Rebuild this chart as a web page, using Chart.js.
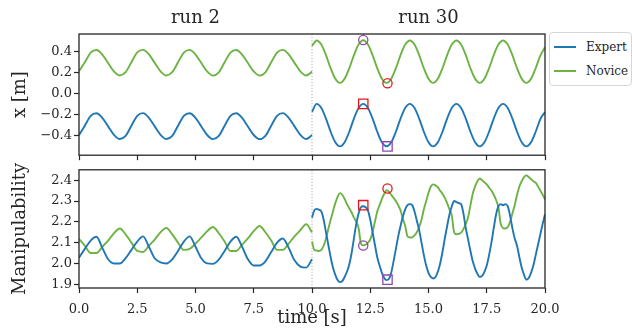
<!DOCTYPE html>
<html>
<head>
<meta charset="utf-8">
<script src="https://cdn.jsdelivr.net/npm/chart.js@4/dist/chart.umd.min.js"></script>
<style>
  html, body { margin: 0; padding: 0; background: #fff; width: 632px; height: 329px; overflow: hidden; position: relative; }
  canvas { position: absolute; left: 0; }
  #posChart { top: 0; }
  #manipChart { top: 160px; }
  #legend { position: absolute; left: 549px; top: 32px; width: 81px; height: 52px; border: 1px solid #d6d6d6; border-radius: 4px; background: #fff; font: 12px 'DejaVu Serif', serif; color: #262626; }
  .entry { position: absolute; left: 0; width: 100%; height: 16px; }
  .swatch { position: absolute; left: 4px; top: 7px; width: 22px; height: 2px; }
  .label { position: absolute; left: 36px; top: 0; line-height: 16px; white-space: nowrap; }
</style>
</head>
<body>
<canvas id="posChart" width="632" height="165"></canvas>
<canvas id="manipChart" width="632" height="169"></canvas>
<div id="legend"></div>
<script>
// ---- series ----
const seriesNames = ['Expert', 'Novice'];
const runTitles = ['run 2', 'run 30'];
const runCentres = [5, 15];
const runSplit = 10;

// run 2, sampled every 0.25 s
const timeRun2 = [0, 0.25, 0.5, 0.75, 1, 1.25, 1.5, 1.75, 2, 2.25, 2.5, 2.75, 3, 3.25, 3.5, 3.75,
  4, 4.25, 4.5, 4.75, 5, 5.25, 5.5, 5.75, 6, 6.25, 6.5, 6.75, 7, 7.25, 7.5, 7.75,
  8, 8.25, 8.5, 8.75, 9, 9.25, 9.5, 9.75, 10];
const posExpertRun2 = [-0.400, -0.308, -0.214, -0.189, -0.233, -0.315, -0.396, -0.436,
  -0.405, -0.308, -0.214, -0.188, -0.233, -0.315, -0.396, -0.436,
  -0.405, -0.309, -0.215, -0.189, -0.233, -0.316, -0.397, -0.437,
  -0.406, -0.309, -0.214, -0.189, -0.234, -0.316, -0.397, -0.437,
  -0.405, -0.308, -0.214, -0.188, -0.233, -0.315, -0.396, -0.436, -0.398];
const posNoviceRun2 = [0.212, 0.297, 0.390, 0.414, 0.371, 0.290, 0.210, 0.171,
  0.202, 0.298, 0.391, 0.415, 0.372, 0.291, 0.211, 0.171,
  0.202, 0.297, 0.390, 0.415, 0.371, 0.290, 0.210, 0.170,
  0.201, 0.297, 0.390, 0.414, 0.371, 0.290, 0.210, 0.170,
  0.201, 0.297, 0.390, 0.415, 0.372, 0.291, 0.211, 0.171, 0.208];
const manipExpertRun2 = [2.028, 2.070, 2.110, 2.128, 2.075, 2.020, 2.000, 2.000,
  2.025, 2.065, 2.105, 2.130, 2.080, 2.025, 2.005, 2.000,
  2.020, 2.060, 2.105, 2.130, 2.080, 2.025, 2.000, 1.998,
  2.018, 2.060, 2.105, 2.128, 2.080, 2.020, 1.990, 1.990,
  2.010, 2.055, 2.100, 2.120, 2.075, 2.015, 1.985, 1.980, 2.020];
const manipNoviceRun2 = [2.118, 2.085, 2.050, 2.050, 2.080, 2.110, 2.145, 2.168,
  2.140, 2.100, 2.060, 2.055, 2.085, 2.115, 2.150, 2.170,
  2.140, 2.100, 2.065, 2.070, 2.095, 2.125, 2.155, 2.175,
  2.145, 2.105, 2.060, 2.060, 2.090, 2.120, 2.155, 2.180,
  2.150, 2.110, 2.065, 2.065, 2.095, 2.130, 2.160, 2.188, 2.150];

// run 30 position, sampled every 0.2 s
const timeRun30Pos = [10, 10.2, 10.4, 10.6, 10.8, 11, 11.2, 11.4, 11.6, 11.8,
  12, 12.2, 12.4, 12.6, 12.8, 13, 13.2, 13.4, 13.6, 13.8,
  14, 14.2, 14.4, 14.6, 14.8, 15, 15.2, 15.4, 15.6, 15.8,
  16, 16.2, 16.4, 16.6, 16.8, 17, 17.2, 17.4, 17.6, 17.8,
  18, 18.2, 18.4, 18.6, 18.8, 19, 19.2, 19.4, 19.6, 19.8, 20];
const posExpertRun30 = [-0.175, -0.100, -0.139, -0.240, -0.366, -0.467, -0.506, -0.467, -0.366, -0.240,
  -0.139, -0.100, -0.139, -0.240, -0.366, -0.467, -0.505, -0.467, -0.366, -0.240,
  -0.139, -0.100, -0.139, -0.240, -0.366, -0.467, -0.506, -0.467, -0.366, -0.240,
  -0.139, -0.100, -0.139, -0.240, -0.366, -0.467, -0.506, -0.467, -0.366, -0.240,
  -0.139, -0.100, -0.139, -0.240, -0.366, -0.467, -0.506, -0.467, -0.366, -0.245, -0.178];
const posNoviceRun30 = [0.453, 0.505, 0.466, 0.365, 0.240, 0.139, 0.100, 0.139, 0.240, 0.365,
  0.466, 0.507, 0.466, 0.365, 0.240, 0.140, 0.100, 0.139, 0.240, 0.365,
  0.466, 0.505, 0.466, 0.365, 0.240, 0.139, 0.100, 0.139, 0.240, 0.365,
  0.466, 0.505, 0.466, 0.365, 0.240, 0.139, 0.100, 0.139, 0.240, 0.365,
  0.466, 0.505, 0.466, 0.365, 0.240, 0.139, 0.100, 0.139, 0.240, 0.360, 0.440];

// run 30 manipulability, sampled every 0.1 s
const timeRun30Manip = [10, 10.1, 10.2, 10.3, 10.4, 10.5, 10.6, 10.7, 10.8, 10.9,
  11, 11.1, 11.2, 11.3, 11.4, 11.5, 11.6, 11.7, 11.8, 11.9,
  12, 12.1, 12.2, 12.3, 12.4, 12.5, 12.6, 12.7, 12.8, 12.9,
  13, 13.1, 13.2, 13.3, 13.4, 13.5, 13.6, 13.7, 13.8, 13.9,
  14, 14.1, 14.2, 14.3, 14.4, 14.5, 14.6, 14.7, 14.8, 14.9,
  15, 15.1, 15.2, 15.3, 15.4, 15.5, 15.6, 15.7, 15.8, 15.9,
  16, 16.1, 16.2, 16.3, 16.4, 16.5, 16.6, 16.7, 16.8, 16.9,
  17, 17.1, 17.2, 17.3, 17.4, 17.5, 17.6, 17.7, 17.8, 17.9,
  18, 18.1, 18.2, 18.3, 18.4, 18.5, 18.6, 18.7, 18.8, 18.9,
  19, 19.1, 19.2, 19.3, 19.4, 19.5, 19.6, 19.7, 19.8, 19.9, 20];
const manipExpertRun30 = [2.220, 2.255, 2.262, 2.258, 2.250, 2.210, 2.150, 2.090, 2.030, 1.980,
  1.945, 1.920, 1.910, 1.915, 1.935, 1.960, 1.995, 2.050, 2.120, 2.190,
  2.240, 2.270, 2.275, 2.270, 2.255, 2.210, 2.150, 2.090, 2.030, 1.990,
  1.955, 1.930, 1.920, 1.925, 1.955, 2.010, 2.070, 2.130, 2.180, 2.225,
  2.260, 2.280, 2.285, 2.280, 2.250, 2.205, 2.160, 2.100, 2.040, 1.990,
  1.955, 1.935, 1.928, 1.935, 1.960, 2.000, 2.055, 2.120, 2.180, 2.235,
  2.275, 2.300, 2.295, 2.290, 2.285, 2.240, 2.170, 2.115, 2.060, 2.010,
  1.975, 1.950, 1.935, 1.940, 1.960, 1.990, 2.040, 2.100, 2.170, 2.235,
  2.275, 2.285, 2.280, 2.285, 2.275, 2.230, 2.170, 2.120, 2.085, 2.030,
  1.980, 1.945, 1.922, 1.930, 1.955, 1.990, 2.040, 2.090, 2.140, 2.190, 2.237];
const manipNoviceRun30 = [2.105, 2.065, 2.062, 2.060, 2.065, 2.085, 2.120, 2.165, 2.210, 2.250,
  2.290, 2.320, 2.338, 2.330, 2.310, 2.285, 2.265, 2.245, 2.220, 2.200,
  2.170, 2.095, 2.087, 2.090, 2.100, 2.115, 2.150, 2.200, 2.250, 2.280,
  2.310, 2.335, 2.352, 2.345, 2.330, 2.315, 2.300, 2.280, 2.255, 2.215,
  2.180, 2.130, 2.125, 2.125, 2.135, 2.150, 2.175, 2.210, 2.260, 2.300,
  2.340, 2.370, 2.380, 2.375, 2.365, 2.350, 2.335, 2.315, 2.290, 2.260,
  2.230, 2.150, 2.140, 2.142, 2.148, 2.165, 2.190, 2.222, 2.280, 2.335,
  2.370, 2.395, 2.408, 2.400, 2.390, 2.380, 2.365, 2.350, 2.330, 2.305,
  2.270, 2.190, 2.170, 2.168, 2.175, 2.200, 2.240, 2.280, 2.330, 2.370,
  2.395, 2.415, 2.423, 2.415, 2.405, 2.395, 2.388, 2.370, 2.350, 2.330, 2.307];

// highlighted instants (t = 12.2 s and t = 13.24 s)
const markTimes = [12.2, 13.24];
const posExpertMarks = [-0.100, -0.506];
const posNoviceMarks = [0.510, 0.097];
const manipExpertMarks = [2.280, 1.922];
const manipNoviceMarks = [2.086, 2.360];

// axis ticks
const timeTicks = [0, 2.5, 5, 7.5, 10, 12.5, 15, 17.5, 20];
const posTicks = [-0.4, -0.2, 0, 0.2, 0.4];
const manipTicks = [1.9, 2.0, 2.1, 2.2, 2.3, 2.4];

// ---- styling ----
const COLORS = { Expert: '#1f77b4', Novice: '#6db344' };
const MARK_RED = '#e8141c';
const MARK_PURPLE = '#9447b0';
const INK = '#262626';
const FONT = "'DejaVu Serif', serif";

Chart.defaults.font.family = FONT;
Chart.defaults.color = INK;

// join the two runs with a break at the run boundary
function joinRuns(t1, v1, t2, v2) {
  const pts = t1.map((t, i) => ({ x: t, y: v1[i] }));
  pts.push({ x: runSplit, y: null });
  t2.forEach((t, i) => pts.push({ x: t, y: v2[i] }));
  return pts;
}

function lineSet(name, pts) {
  return {
    label: name, data: pts, borderColor: COLORS[name], backgroundColor: COLORS[name],
    borderWidth: 1.9, pointRadius: 0, pointHoverRadius: 0, spanGaps: false,
    cubicInterpolationMode: 'monotone', order: 2
  };
}

function markSet(x, y, style, color, radius) {
  return {
    type: 'scatter', label: '', data: [{ x: x, y: y }], showLine: false,
    pointStyle: style, pointRadius: radius, pointBorderColor: color, pointBackgroundColor: 'rgba(0,0,0,0)',
    pointBorderWidth: 1.3, order: 0
  };
}

const fmtTick = v => (v < 0 ? '\u2212' : '') + Math.abs(v).toFixed(1);

// frame around each panel plus dotted divider between the two runs
const framePlugin = {
  id: 'panelFrame',
  beforeDatasetsDraw(chart) {
    const { ctx, chartArea: a } = chart;
    const px = chart.scales.x.getPixelForValue(runSplit);
    ctx.save();
    ctx.strokeStyle = '#9a9a9a';
    ctx.lineWidth = 0.8;
    ctx.setLineDash([1.2, 1.8]);
    ctx.beginPath();
    ctx.moveTo(px, a.top);
    ctx.lineTo(px, a.bottom);
    ctx.stroke();
    ctx.restore();
  },
  afterDraw(chart) {
    const { ctx, chartArea: a } = chart;
    ctx.save();
    ctx.strokeStyle = INK;
    ctx.lineWidth = 1.3;
    ctx.strokeRect(a.left, a.top, a.right - a.left, a.bottom - a.top);
    ctx.restore();
  }
};

// run titles above the upper panel
const runTitlePlugin = {
  id: 'runTitles',
  afterDraw(chart) {
    const { ctx } = chart;
    ctx.save();
    ctx.fillStyle = INK;
    ctx.font = '18px ' + FONT;
    ctx.textAlign = 'center';
    ctx.textBaseline = 'middle';
    runTitles.forEach((txt, i) => ctx.fillText(txt, chart.scales.x.getPixelForValue(runCentres[i]), 18));
    ctx.restore();
  }
};

function xScale(showLabels, height, withTitle) {
  return {
    type: 'linear', min: 0, max: 20,
    afterBuildTicks: s => { s.ticks = timeTicks.map(v => ({ value: v })); },
    afterFit: s => { s.height = height; },
    ticks: { display: true, font: { size: 13 }, color: INK, padding: 9, maxRotation: 0,
      callback: v => showLabels ? v.toFixed(1) : '' },
    grid: { drawOnChartArea: false, drawTicks: true, tickLength: 5, tickColor: INK, tickWidth: 1.2 },
    border: { display: false },
    title: { display: withTitle, text: 'time [s]', font: { size: 18 }, color: INK, padding: { top: 0, bottom: 0 } }
  };
}

function yScale(min, max, ticks, title) {
  return {
    type: 'linear', min: min, max: max,
    afterBuildTicks: s => { s.ticks = ticks.map(v => ({ value: v })); },
    afterFit: s => { s.width = 79; },
    ticks: { font: { size: 13 }, color: INK, padding: 2, callback: fmtTick },
    grid: { drawOnChartArea: false, drawTicks: true, tickLength: 5, tickColor: INK, tickWidth: 1.2 },
    border: { display: false },
    title: { display: true, text: title, font: { size: 18 }, color: INK, padding: { top: 10, bottom: 0 } }
  };
}

const commonOpts = {
  responsive: false, animation: false, devicePixelRatio: 1,
  plugins: { legend: { display: false }, tooltip: { enabled: false }, title: { display: false } },
  events: []
};

new Chart(document.getElementById('posChart'), {
  type: 'line',
  data: {
    datasets: [
      markSet(markTimes[0], posNoviceMarks[0], 'circle', MARK_PURPLE, 4.6),
      markSet(markTimes[1], posNoviceMarks[1], 'circle', MARK_RED, 4.6),
      markSet(markTimes[0], posExpertMarks[0], 'rect', MARK_RED, 6.6),
      markSet(markTimes[1], posExpertMarks[1], 'rect', MARK_PURPLE, 6.6),
      lineSet('Expert', joinRuns(timeRun2, posExpertRun2, timeRun30Pos, posExpertRun30)),
      lineSet('Novice', joinRuns(timeRun2, posNoviceRun2, timeRun30Pos, posNoviceRun30))
    ]
  },
  options: Object.assign({}, commonOpts, {
    layout: { padding: { top: 34, right: 87, bottom: 0, left: 0 } },
    scales: { x: xScale(false, 8, false), y: yScale(-0.59, 0.567, posTicks, 'x [m]') }
  }),
  plugins: [framePlugin, runTitlePlugin]
});

new Chart(document.getElementById('manipChart'), {
  type: 'line',
  data: {
    datasets: [
      markSet(markTimes[0], manipExpertMarks[0], 'rect', MARK_RED, 6.6),
      markSet(markTimes[1], manipExpertMarks[1], 'rect', MARK_PURPLE, 6.6),
      markSet(markTimes[0], manipNoviceMarks[0], 'circle', MARK_PURPLE, 4.6),
      markSet(markTimes[1], manipNoviceMarks[1], 'circle', MARK_RED, 4.6),
      lineSet('Expert', joinRuns(timeRun2, manipExpertRun2, timeRun30Manip, manipExpertRun30)),
      lineSet('Novice', joinRuns(timeRun2, manipNoviceRun2, timeRun30Manip, manipNoviceRun30))
    ]
  },
  options: Object.assign({}, commonOpts, {
    layout: { padding: { top: 6, right: 87, bottom: 0, left: 0 } },
    scales: { x: xScale(true, 41, true), y: yScale(1.882, 2.45, manipTicks, 'Manipulability') }
  }),
  plugins: [framePlugin]
});

// legend box to the right of the upper panel
const legend = document.getElementById('legend');
seriesNames.forEach((name, i) => {
  const row = document.createElement('div');
  row.className = 'entry';
  row.style.top = (6 + i * 24) + 'px';
  const sw = document.createElement('div');
  sw.className = 'swatch';
  sw.style.background = COLORS[name];
  const lb = document.createElement('div');
  lb.className = 'label';
  lb.textContent = name;
  row.appendChild(sw);
  row.appendChild(lb);
  legend.appendChild(row);
});
</script>
</body>
</html>
